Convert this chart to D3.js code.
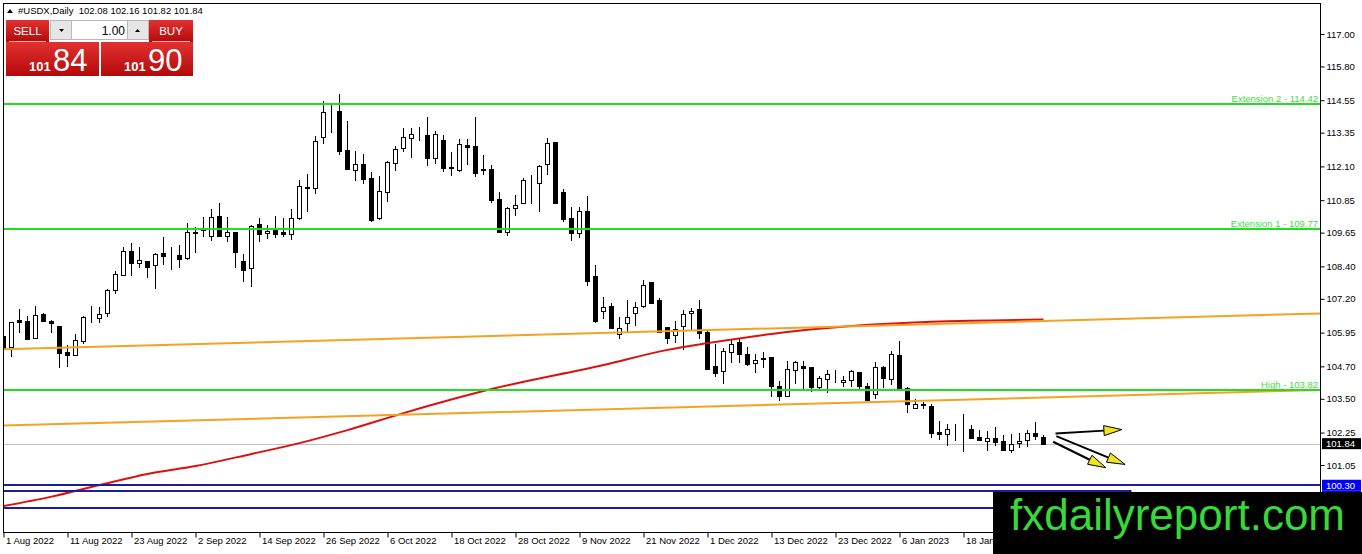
<!DOCTYPE html>
<html>
<head>
<meta charset="utf-8">
<script src="https://cdn.jsdelivr.net/npm/d3@7"></script>
<style>
body { margin: 0; background: #fff; overflow: hidden; }
svg { display: block; font-family: "Liberation Sans", Arial, sans-serif; }
</style>
</head>
<body>
<svg id="chart" width="1362" height="554"></svg>
<script>
// daily candles, bar 0 = 1 Aug 2022
var opens = [105.82,105.42,106.42,106.38,105.75,106.65,106.38,106.19,105.23,105.12,
  105.64,106.50,106.49,106.67,107.53,108.08,108.97,108.52,108.60,108.45,
  108.89,108.79,108.82,108.71,109.64,109.76,109.52,110.26,109.52,109.67,
  108.60,108.33,109.96,109.62,109.74,109.66,109.59,110.18,111.31,111.29,
  113.18,114.11,114.15,112.69,111.96,112.18,111.66,110.20,111.16,112.21,
  112.77,113.14,113.27,113.26,112.42,113.08,112.06,111.97,112.89,112.85,
  111.99,111.99,110.88,109.68,110.55,110.76,111.55,111.50,112.18,112.99,
  111.14,110.18,109.62,110.45,108.04,106.76,106.93,105.90,106.29,106.66,
  106.94,107.81,107.16,106.14,105.86,106.20,106.66,106.81,105.98,104.71,
  104.52,105.24,105.61,105.16,104.81,104.98,105.03,103.98,103.60,104.56,
  104.72,104.66,103.95,104.22,104.36,104.11,104.19,104.48,103.98,103.66,
  104.66,104.22,105.12,103.91,103.17,103.30,103.23,102.27,102.18,102.37,
  102.39,102.38,102.07,101.95,102.04,101.94,101.60,101.85,101.97,102.24,
  102.08];
var highs = [106.12,106.36,106.82,106.56,106.93,106.68,106.42,106.20,105.49,105.90,
  106.55,106.93,106.90,107.56,108.23,109.12,109.27,109.12,108.61,108.89,
  109.49,109.12,109.19,110.00,109.86,110.23,110.52,110.75,110.23,109.68,
  108.85,109.92,110.19,109.93,110.26,110.19,110.52,111.60,111.82,113.22,
  114.52,114.41,114.78,113.78,112.67,112.56,111.89,111.74,112.30,112.85,
  113.52,113.52,113.56,113.93,113.41,113.26,112.63,113.11,113.11,113.94,
  112.52,112.15,111.16,110.61,111.04,111.67,111.78,112.15,113.14,113.01,
  111.26,110.61,110.61,111.00,108.45,107.26,107.06,106.52,107.16,107.09,
  107.89,107.82,107.23,106.16,106.39,106.79,106.85,107.16,106.00,105.52,
  105.37,105.68,105.74,105.41,105.16,105.24,105.05,104.17,104.90,104.90,
  104.91,104.67,104.34,104.56,104.56,104.35,104.56,104.49,104.09,104.87,
  104.71,105.27,105.65,103.95,103.48,103.39,103.29,102.68,102.55,102.55,
  102.92,102.53,102.34,102.31,102.44,102.16,102.19,102.22,102.34,102.63,
  102.16];
var lows = [105.23,105.05,105.93,105.68,105.71,106.34,105.93,104.64,104.67,105.10,
  105.53,106.30,106.30,106.53,107.38,108.04,108.04,108.34,107.97,107.56,
  108.45,108.27,108.34,108.63,108.89,109.49,109.34,109.51,109.30,108.34,
  107.81,107.65,109.30,109.41,109.45,109.49,109.38,110.12,110.41,111.08,
  112.93,113.34,112.52,111.98,111.56,111.45,110.04,110.12,110.78,111.93,
  112.63,112.41,113.04,112.11,112.19,111.89,111.74,111.89,112.15,111.71,
  111.78,110.76,109.62,109.52,110.26,110.71,110.71,110.42,111.78,110.71,
  110.03,109.35,109.44,107.68,106.29,106.44,106.07,105.70,105.98,106.19,
  106.85,107.01,105.92,105.53,105.55,105.30,106.05,105.71,104.56,104.31,
  104.05,104.83,104.81,104.71,104.46,104.65,103.58,103.43,103.55,104.05,
  103.82,103.76,103.85,103.72,104.09,103.92,103.95,103.80,103.42,103.48,
  103.89,104.01,103.85,102.96,103.11,103.11,102.06,101.97,101.76,101.94,
  101.52,102.01,101.95,101.58,101.75,101.58,101.51,101.69,101.73,101.97,
  101.82];
var closes = [105.38,106.34,106.34,105.71,106.60,106.38,106.30,105.19,105.12,105.68,
  106.53,106.48,106.64,107.53,108.12,108.97,108.52,108.63,108.38,108.86,
  108.79,108.77,108.67,109.67,109.66,109.80,110.23,109.52,109.67,108.93,
  108.28,109.90,109.61,109.71,109.61,109.59,110.18,111.37,111.33,113.04,
  114.10,114.13,112.68,111.99,112.18,111.62,110.13,111.19,112.25,112.74,
  113.18,113.29,113.25,112.42,113.29,112.05,112.04,112.92,112.81,111.87,
  111.97,110.86,109.68,110.55,110.66,111.60,111.57,112.12,112.95,110.76,
  110.15,109.62,110.45,107.87,106.38,106.88,106.11,106.13,106.54,106.88,
  107.71,107.06,105.98,105.76,106.08,106.64,106.75,105.95,104.59,104.44,
  105.27,105.52,105.15,104.79,104.92,105.00,103.97,103.60,104.59,104.85,
  104.65,103.95,104.26,104.41,104.34,104.19,104.53,103.97,103.46,104.66,
  104.26,105.16,103.91,103.29,103.29,103.28,102.24,102.18,102.37,102.39,
  102.38,102.06,101.97,102.04,101.91,101.60,101.83,101.95,102.24,102.12,
  101.84];

var dateLabels = ["1 Aug 2022","11 Aug 2022","23 Aug 2022","2 Sep 2022","14 Sep 2022",
  "26 Sep 2022","6 Oct 2022","18 Oct 2022","28 Oct 2022","9 Nov 2022","21 Nov 2022",
  "1 Dec 2022","13 Dec 2022","23 Dec 2022","6 Jan 2023","18 Jan 2023"];
var dateBars = [0,8,16,24,32,40,48,56,64,72,80,88,96,104,112,120];

var priceTicks = [117.00,115.80,114.55,113.35,112.10,110.85,109.65,108.40,
  107.20,105.95,104.70,103.50,102.25,101.05];

// moving average (red), read at a few bars
var maBars = [0,6,12,18,24,31,37,43,50,61,75,83,88,96,106,116,130];
var maValues = [99.53,99.88,100.31,100.72,101.01,101.46,101.86,102.34,102.97,
  103.86,104.75,105.31,105.56,105.90,106.19,106.35,106.43];

// orange trend lines: price at bar 0 and bar 130, extended to the right
var trendFrom = [105.33, 102.51];
var trendTo = [106.38, 103.55];

var levelPrices = [114.42, 109.77, 103.82];
var levelNames = ["Extension 2", "Extension 1", "High"];
var bluePrices = [100.30, 100.08, 99.47];
var blueEnds = [null, 141, null];

var lastPrice = 101.84;
var header = ["#USDX,Daily", "102.08", "102.16", "101.82", "101.84"];

// arrows drawn on the right: [bar, price] -> [bar, price]
var arrowFrom = [[131.5, 102.22], [131.6, 102.12], [131.2, 101.91]];
var arrowTo = [[139.8, 102.36], [140.2, 101.07], [137.8, 100.95]];

var svg = d3.select("#chart");
var plotL = 3, plotT = 3, plotR = 1320, plotB = 532;

var x = d3.scaleLinear().domain([0, 130]).range([3.5, 1043.5]);
var y = d3.scaleLinear().domain([101.05, 117.00]).range([465, 34]);

svg.append("rect").attr("width", 1362).attr("height", 554).attr("fill", "#fff");

svg.append("clipPath").attr("id", "plot")
  .append("rect").attr("x", plotL).attr("y", plotT)
  .attr("width", plotR - plotL).attr("height", plotB - plotT);

var plot = svg.append("g").attr("clip-path", "url(#plot)");

// current price line
plot.append("line")
  .attr("x1", plotL).attr("x2", plotR)
  .attr("y1", Math.round(y(lastPrice)) + 0.5).attr("y2", Math.round(y(lastPrice)) + 0.5)
  .attr("stroke", "#c0c0c0").attr("stroke-width", 1);

// candles
var candles = plot.append("g").attr("shape-rendering", "crispEdges");
opens.forEach(function(o, i) {
  var c = closes[i];
  var cx = x(i);
  candles.append("line")
    .attr("x1", cx).attr("x2", cx)
    .attr("y1", Math.round(y(highs[i]))).attr("y2", Math.round(y(lows[i])))
    .attr("stroke", "#000").attr("stroke-width", 1);
  var yt = Math.round(y(Math.max(o, c))), yb = Math.round(y(Math.min(o, c)));
  candles.append("rect")
    .attr("x", cx - 2).attr("y", yt + 0.5)
    .attr("width", 4).attr("height", Math.max(yb - yt, 0))
    .attr("fill", c >= o ? "#fff" : "#000")
    .attr("stroke", "#000").attr("stroke-width", 1);
});

// red MA
plot.append("path")
  .datum(maBars.map(function(b, i) { return [b, maValues[i]]; }))
  .attr("d", d3.line().x(function(d) { return x(d[0]); }).y(function(d) { return y(d[1]); })
    .curve(d3.curveMonotoneX))
  .attr("fill", "none").attr("stroke", "#dd1010").attr("stroke-width", 2);

// orange trend lines
var edgeBar = x.invert(plotR);
trendFrom.forEach(function(p0, i) {
  var slope = (trendTo[i] - p0) / 130;
  plot.append("line")
    .attr("x1", x(0) - 1).attr("y1", y(p0 - slope / 8))
    .attr("x2", plotR).attr("y2", y(p0 + slope * edgeBar))
    .attr("stroke", "#f5a122").attr("stroke-width", 2);
});

// green levels
levelPrices.forEach(function(p, i) {
  var yy = Math.round(y(p));
  plot.append("line")
    .attr("x1", plotL).attr("x2", plotR).attr("y1", yy).attr("y2", yy)
    .attr("stroke", "#22dd22").attr("stroke-width", 2);
  plot.append("text")
    .attr("x", plotR - 2).attr("y", yy - 2)
    .attr("text-anchor", "end").attr("font-size", "9.5px").attr("fill", "#3ee03e")
    .text(levelNames[i] + " - " + p.toFixed(2));
});

// blue lines
bluePrices.forEach(function(p, i) {
  var yy = Math.round(y(p));
  plot.append("line")
    .attr("x1", plotL).attr("x2", blueEnds[i] === null ? plotR : x(blueEnds[i]))
    .attr("y1", yy).attr("y2", yy)
    .attr("stroke", "#1c1c9c").attr("stroke-width", 2);
});

// arrows
arrowFrom.forEach(function(a, i) {
  var x0 = x(a[0]), y0 = y(a[1]), x1 = x(arrowTo[i][0]), y1 = y(arrowTo[i][1]);
  var dx = x1 - x0, dy = y1 - y0, len = Math.sqrt(dx * dx + dy * dy);
  var ux = dx / len, uy = dy / len, hl = 18, hw = 5;
  var bx = x1 - ux * hl, by = y1 - uy * hl;
  svg.append("line")
    .attr("x1", x0).attr("y1", y0).attr("x2", bx).attr("y2", by)
    .attr("stroke", "#000").attr("stroke-width", 2);
  svg.append("polygon")
    .attr("points", [[x1, y1], [bx - uy * hw, by + ux * hw], [bx + uy * hw, by - ux * hw]]
      .map(function(p) { return p.join(","); }).join(" "))
    .attr("fill", "#f2e41c").attr("stroke", "#000").attr("stroke-width", 1);
});

// frame
svg.append("rect")
  .attr("x", plotL + 0.5).attr("y", plotT + 0.5)
  .attr("width", plotR - plotL).attr("height", plotB - plotT)
  .attr("fill", "none").attr("stroke", "#000").attr("stroke-width", 1)
  .attr("shape-rendering", "crispEdges");

// price axis
var yAxis = svg.append("g")
  .attr("transform", "translate(" + (plotR + 0.5) + ",0)")
  .call(d3.axisRight(y).tickValues(priceTicks).tickSize(4).tickPadding(2)
    .tickFormat(d3.format(".2f")));
yAxis.select(".domain").remove();
yAxis.selectAll("text").attr("font-size", "9.5px").attr("fill", "#000")
  .attr("font-family", "Liberation Sans, Arial, sans-serif");

// price labels on the axis
function axisTag(p, bg, top) {
  var y0 = top === undefined ? y(p) - 5.5 : top;
  svg.append("rect").attr("x", plotR + 2).attr("y", y0)
    .attr("width", 39).attr("height", 11).attr("fill", bg);
  svg.append("text").attr("x", plotR + 6).attr("y", y0 + 9)
    .attr("font-size", "9.5px").attr("fill", "#fff").text(p.toFixed(2));
}
axisTag(bluePrices[1], "#0000ff", y(bluePrices[0]) + 5.5);
axisTag(bluePrices[0], "#0000ff");
axisTag(lastPrice, "#000");

// time axis
var xAxis = svg.append("g")
  .attr("transform", "translate(0," + (plotB + 0.5) + ")")
  .call(d3.axisBottom(x).tickValues(dateBars).tickSize(5)
    .tickFormat(function(d, i) { return dateLabels[i]; }));
xAxis.select(".domain").remove();
xAxis.selectAll("text").attr("text-anchor", "start").attr("x", 2).attr("y", 5)
  .attr("dy", "0.71em").attr("font-size", "9.5px").attr("fill", "#000")
  .attr("font-family", "Liberation Sans, Arial, sans-serif");

// header
svg.append("polygon").attr("points", "7,13 13,13 10,9").attr("fill", "#000");
svg.append("text").attr("x", 18).attr("y", 14).attr("font-size", "9.5px")
  .style("white-space", "pre")
  .text(header[0] + "  " + header.slice(1).join(" "));

// one-click trading panel
var defs = svg.append("defs");
var grad = defs.append("linearGradient").attr("id", "red").attr("x1", 0).attr("x2", 0).attr("y1", 0).attr("y2", 1);
grad.append("stop").attr("offset", "0%").attr("stop-color", "#e23030");
grad.append("stop").attr("offset", "100%").attr("stop-color", "#b40a0a");
var panel = svg.append("g");
panel.append("rect").attr("x", 6).attr("y", 20).attr("width", 43).attr("height", 22).attr("fill", "url(#red)");
panel.append("rect").attr("x", 149).attr("y", 20).attr("width", 44).attr("height", 22).attr("fill", "url(#red)");
panel.append("rect").attr("x", 6).attr("y", 42).attr("width", 93).attr("height", 34).attr("fill", "url(#red)");
panel.append("rect").attr("x", 101).attr("y", 42).attr("width", 92).attr("height", 34).attr("fill", "url(#red)");
panel.append("line").attr("x1", 9).attr("x2", 46).attr("y1", 41.5).attr("y2", 41.5).attr("stroke", "#f0b0b0");
panel.append("line").attr("x1", 152).attr("x2", 190).attr("y1", 41.5).attr("y2", 41.5).attr("stroke", "#f0b0b0");
panel.append("rect").attr("x", 50.5).attr("y", 20.5).attr("width", 21).attr("height", 19).attr("fill", "#e6e6e6").attr("stroke", "#b8b8b8");
panel.append("rect").attr("x", 71.5).attr("y", 20.5).attr("width", 56).attr("height", 19).attr("fill", "#fff").attr("stroke", "#b8b8b8");
panel.append("rect").attr("x", 127.5).attr("y", 20.5).attr("width", 21).attr("height", 19).attr("fill", "#e6e6e6").attr("stroke", "#b8b8b8");
panel.append("polygon").attr("points", "59,29 64,29 61.5,32").attr("fill", "#000");
panel.append("polygon").attr("points", "135,32 140,32 137.5,29").attr("fill", "#000");
panel.append("text").attr("x", 125).attr("y", 34.5).attr("text-anchor", "end").attr("font-size", "12px").attr("fill", "#000").text("1.00");
panel.append("text").attr("x", 27.5).attr("y", 35).attr("text-anchor", "middle").attr("font-size", "11.5px").attr("fill", "#fff").text("SELL");
panel.append("text").attr("x", 171).attr("y", 35).attr("text-anchor", "middle").attr("font-size", "11.5px").attr("fill", "#fff").text("BUY");
panel.append("text").attr("x", 29).attr("y", 71).attr("font-size", "13px").attr("font-weight", "bold").attr("fill", "#fff").text("101");
panel.append("text").attr("x", 53).attr("y", 71).attr("font-size", "31px").attr("fill", "#fff").text("84");
panel.append("text").attr("x", 124).attr("y", 71).attr("font-size", "13px").attr("font-weight", "bold").attr("fill", "#fff").text("101");
panel.append("text").attr("x", 148).attr("y", 71).attr("font-size", "31px").attr("fill", "#fff").text("90");

// logo
svg.append("rect").attr("x", 993).attr("y", 492).attr("width", 369).attr("height", 62).attr("fill", "#000");
svg.append("text").attr("x", 1010).attr("y", 530).attr("font-size", "44px")
  .attr("fill", "#38d838").text("fxdailyreport.com");
</script>
</body>
</html>
